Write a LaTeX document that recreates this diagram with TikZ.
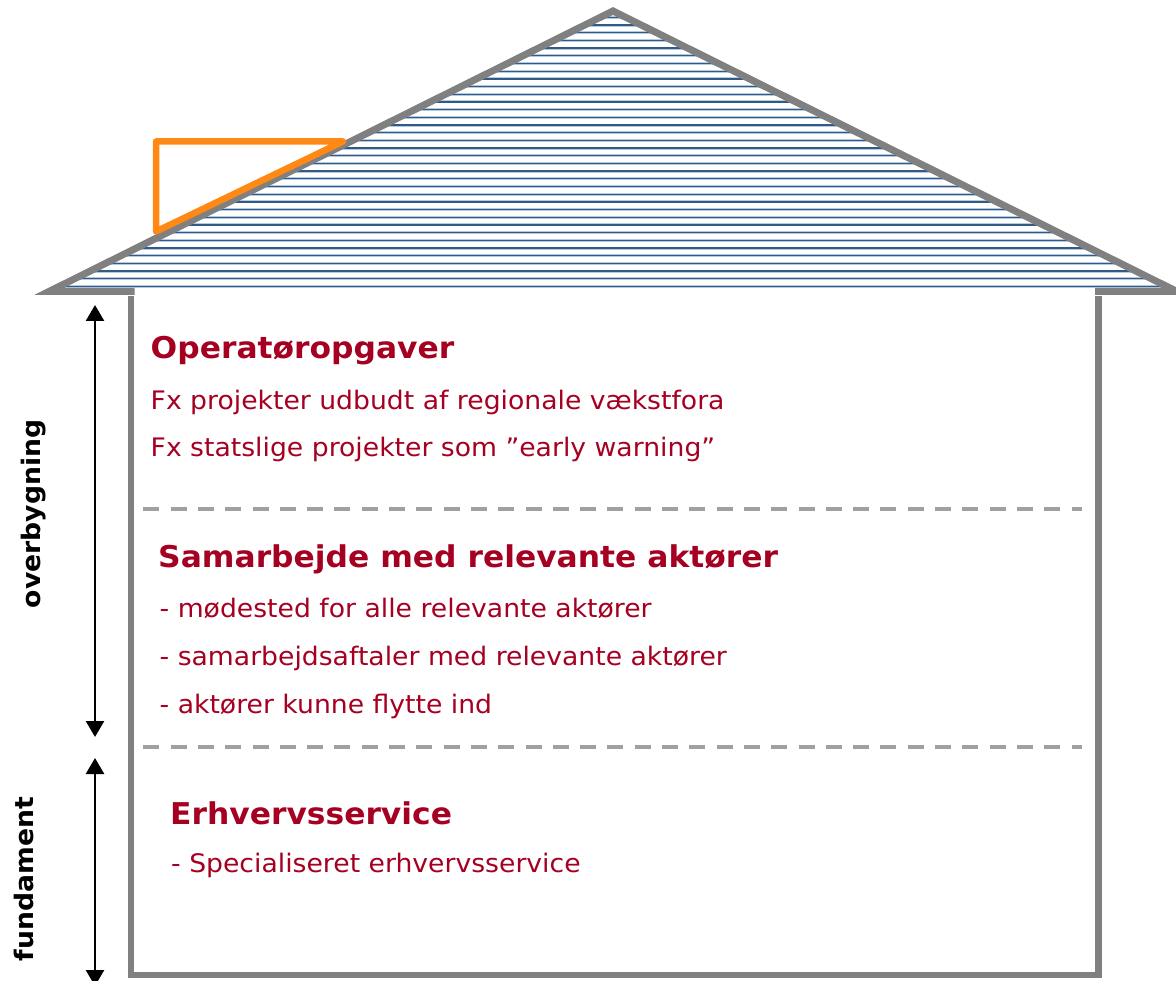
\documentclass[tikz,border=0pt]{standalone}
\usepackage{fontspec}
\setmainfont{DejaVu Sans}
\newfontfamily\bodyf[FakeStretch=1.045]{DejaVu Sans}
\usetikzlibrary{arrows.meta}
\definecolor{txtred}{RGB}{165,0,33}
\definecolor{wallgray}{RGB}{128,128,128}
\definecolor{dashgray}{RGB}{160,160,160}
\definecolor{hatchlt}{RGB}{180,202,224}
\definecolor{hatchdk}{RGB}{50,90,135}
\definecolor{orangeline}{RGB}{255,137,20}
\tikzset{
  wall/.style={draw=wallgray, line width=7pt, line join=miter},
  sep/.style={draw=dashgray, line width=4pt, dash pattern=on 16pt off 11.3pt},
  hatchlight/.style={draw=hatchlt, line width=3pt},
  hatchdark/.style={draw=hatchdk, line width=1.3pt},
  head/.style={font=\bodyf\bfseries\fontsize{30}{36}\selectfont, text=txtred, anchor=base west, inner sep=0pt},
  body/.style={font=\bodyf\fontsize{25.5}{30}\selectfont, text=txtred, anchor=base west, inner sep=0pt},
  side/.style={font=\bodyf\bfseries\fontsize{25.5}{30}\selectfont, text=black, anchor=base, inner sep=0pt, rotate=90},
  dimarrow/.style={line width=2.5pt, {Triangle[length=16pt,width=18pt]}-{Triangle[length=16pt,width=18pt]}},
  flag/.style={draw=orangeline, line width=6.5pt, line join=round}
}
\begin{document}
\begin{tikzpicture}[x=1pt,y=-1pt]
\useasboundingbox (0,0) rectangle (1176,981);
% roof hatching
\begin{scope}
  \clip (49,291.5) -- (613,11) -- (1177,291.5) -- cycle;
  \foreach \k in {0,...,36} {
    \draw[hatchlight] ({40},{286.5-7.69*\k}) -- ({1180},{286.5-7.69*\k});
    \draw[hatchdark] ({40},{286.5-7.69*\k}) -- ({1180},{286.5-7.69*\k});
  }
\end{scope}
% roof outline
\coordinate (eaveL) at (49,291.5);
\coordinate (peak) at (613,11);
\coordinate (eaveR) at (1177,291.5);
\coordinate (baseL) at (134.5,291.5);
\coordinate (baseR) at (1095,291.5);
\draw[wall] (baseL) -- (eaveL) -- (peak) -- (eaveR) -- (baseR);
% house body
\coordinate (wallTL) at (131,296);
\coordinate (wallBL) at (131,975);
\coordinate (wallBR) at (1098.5,975);
\coordinate (wallTR) at (1098.5,296);
\draw[wall, line width=6.7pt] (wallTL) -- (wallBL) -- (wallBR) -- (wallTR);
% orange triangle
\coordinate (fA) at (156,141.5);
\coordinate (fB) at (343,141.5);
\coordinate (fC) at (156,231.5);
\draw[flag] (fA) -- (fB) -- (fC) -- cycle;
% separators
\coordinate (s1a) at (143.3,509.3);
\coordinate (s1b) at (1082,509.3);
\coordinate (s2a) at (143.3,746.7);
\coordinate (s2b) at (1082,746.7);
\draw[sep] (s1a) -- (s1b);
\draw[sep] (s2a) -- (s2b);
% side arrows
\coordinate (ovT) at (95,305);
\coordinate (ovB) at (95,737);
\coordinate (fuT) at (95,758);
\coordinate (fuB) at (95,986);
\draw[dimarrow] (ovT) -- (ovB);
\draw[dimarrow] (fuT) -- (fuB);
\node[side] (lblov) at (40,514) {overbygning};
\node[side] (lblfu) at (34,879) {fundament};
% texts
\node[head] (h1) at (150.5,358.3) {Operatøropgaver};
\node[body] (t11) at (150.5,410) {Fx projekter udbudt af regionale vækstfora};
\node[body] (t12) at (150.5,456.7) {Fx statslige projekter som ”early warning”};
\node[head] (h2) at (158,567.3) {Samarbejde med relevante aktører};
\node[body] (t21) at (159.5,617.3) {- mødested for alle relevante aktører};
\node[body] (t22) at (159.5,665) {- samarbejdsaftaler med relevante aktører};
\node[body] (t23) at (159.5,713.3) {- aktører kunne flytte ind};
\node[head] (h3) at (170,824.3) {Erhvervsservice};
\node[body] (t31) at (171,872.7) {- Specialiseret erhvervsservice};
\end{tikzpicture}
\end{document}
